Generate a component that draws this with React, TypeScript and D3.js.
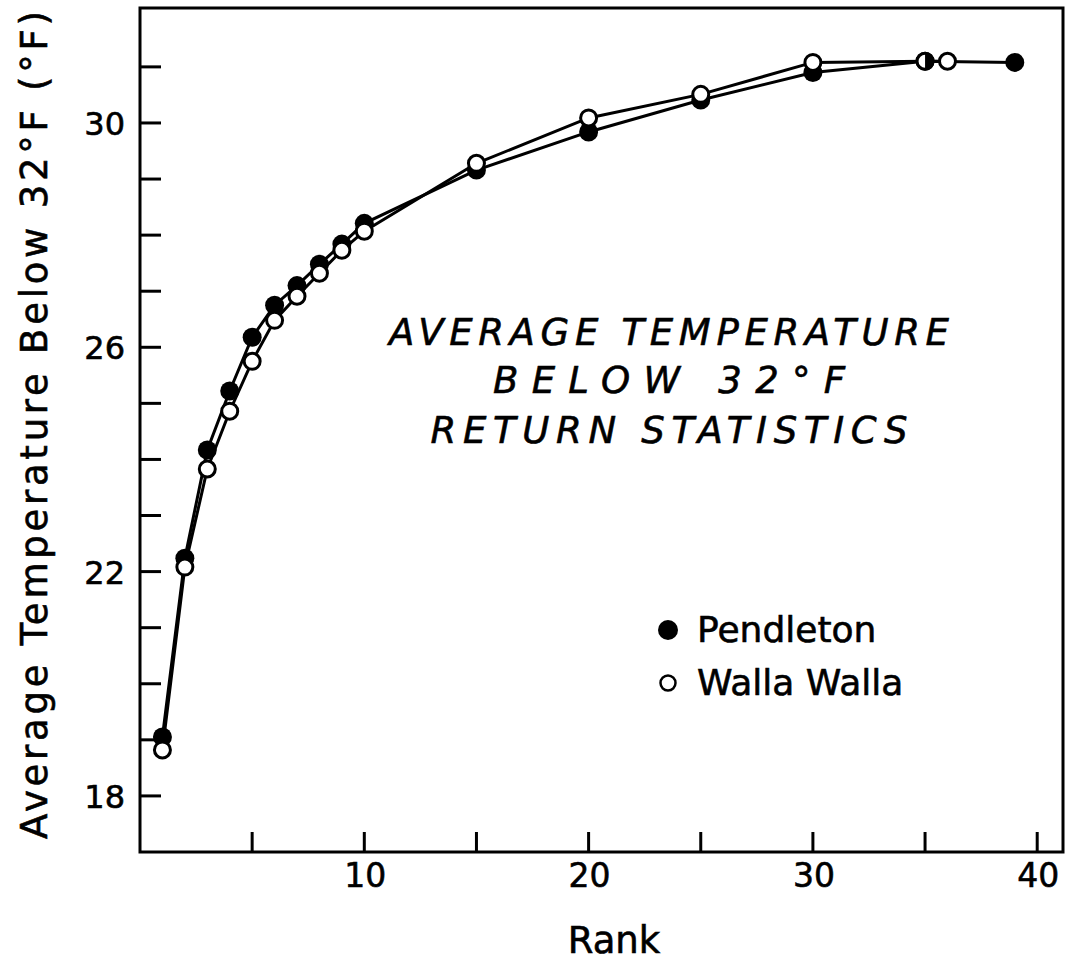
import { useEffect, useRef } from "react";
import * as d3 from "d3";

// ranks and temperatures
const pendletonRank = [1, 2, 3, 4, 5, 6, 7, 8, 9, 10, 15, 20, 25, 30, 35, 39];
const pendletonTemp = [19.05, 22.24, 24.17, 25.22, 26.18, 26.75, 27.1, 27.48, 27.84, 28.21, 29.16, 29.84, 30.41, 30.9, 31.1, 31.08];
const wallaRank = [1, 2, 3, 4, 5, 6, 7, 8, 9, 10, 15, 20, 25, 30, 35, 36];
const wallaTemp = [18.82, 22.08, 23.83, 24.86, 25.75, 26.48, 26.91, 27.32, 27.73, 28.07, 29.28, 30.09, 30.51, 31.08, 31.1, 31.1];

const xTicks = [5, 10, 15, 20, 25, 30, 35, 40];
const xLabels = [10, 20, 30, 40];
const yTicks = [18, 19, 20, 21, 22, 23, 24, 25, 26, 27, 28, 29, 30, 31];
const yLabels = [18, 22, 26, 30];
const titleLines = ["AVERAGE TEMPERATURE", "BELOW 32°F", "RETURN STATISTICS"];

export default function App() {
  const ref = useRef<SVGSVGElement>(null);

  useEffect(() => {
    const width = 1066;
    const height = 961;
    const m = { left: 140, right: 1063, top: 8, bottom: 852 };
    const font = "'DejaVu Sans', Verdana, sans-serif";

    const svg = d3.select(ref.current);
    svg.selectAll("*").remove();
    svg.attr("width", width).attr("height", height);

    const x = d3.scaleLinear().domain([0, 41.15]).range([m.left, m.right]);
    const y = d3.scaleLinear().domain([17, 32.05]).range([m.bottom, m.top]);

    // thicken glyphs a little, like the pen lettering
    const ink = (sel: any) => sel.attr("fill", "#000").attr("stroke", "#000").attr("stroke-width", 0.6);

    // frame
    svg
      .append("rect")
      .attr("x", m.left)
      .attr("y", m.top)
      .attr("width", m.right - m.left)
      .attr("height", m.bottom - m.top)
      .attr("fill", "none")
      .attr("stroke", "#000")
      .attr("stroke-width", 3);

    // ticks (inside)
    svg
      .append("g")
      .selectAll("line")
      .data(xTicks)
      .join("line")
      .attr("x1", (d) => x(d))
      .attr("x2", (d) => x(d))
      .attr("y1", m.bottom)
      .attr("y2", m.bottom - 20)
      .attr("stroke", "#000")
      .attr("stroke-width", 3);

    svg
      .append("g")
      .selectAll("line")
      .data(yTicks)
      .join("line")
      .attr("x1", m.left)
      .attr("x2", m.left + 21)
      .attr("y1", (d) => y(d))
      .attr("y2", (d) => y(d))
      .attr("stroke", "#000")
      .attr("stroke-width", 3);

    svg
      .append("g")
      .selectAll("text")
      .data(xLabels)
      .join("text")
      .attr("x", (d) => x(d) + 1)
      .attr("y", 887)
      .attr("text-anchor", "middle")
      .style("font", `33px ${font}`)
      .call(ink)
      .text((d) => d);

    svg
      .append("g")
      .selectAll("text")
      .data(yLabels)
      .join("text")
      .attr("x", 125)
      .attr("y", (d) => y(d) + 12)
      .attr("text-anchor", "end")
      .style("font", `32px ${font}`)
      .call(ink)
      .text((d) => d);

    // axis titles
    svg
      .append("text")
      .attr("x", 614)
      .attr("y", 953)
      .attr("text-anchor", "middle")
      .style("font", `37px ${font}`)
      .call(ink)
      .text("Rank");

    svg
      .append("text")
      .attr("transform", "translate(47,425) rotate(-90)")
      .attr("text-anchor", "middle")
      .attr("textLength", 828)
      .attr("lengthAdjust", "spacing")
      .style("font", `37px ${font}`)
      .call(ink)
      .text("Average Temperature Below 32°F (°F)");

    // lines
    const line = d3
      .line<[number, number]>()
      .x((d) => x(d[0]))
      .y((d) => y(d[1]));

    const pend: [number, number][] = pendletonRank.map((r, i) => [r, pendletonTemp[i]]);
    const walla: [number, number][] = wallaRank.map((r, i) => [r, wallaTemp[i]]);

    svg
      .append("path")
      .attr("d", line(walla))
      .attr("fill", "none")
      .attr("stroke", "#000")
      .attr("stroke-width", 3);
    svg
      .append("path")
      .attr("d", line(pend))
      .attr("fill", "none")
      .attr("stroke", "#000")
      .attr("stroke-width", 3);

    svg
      .append("g")
      .selectAll("circle")
      .data(pend)
      .join("circle")
      .attr("cx", (d) => x(d[0]))
      .attr("cy", (d) => y(d[1]))
      .attr("r", 9.5)
      .attr("fill", "#000");

    svg
      .append("g")
      .selectAll("circle")
      .data(walla)
      .join("circle")
      .attr("cx", (d) => x(d[0]))
      .attr("cy", (d) => y(d[1]))
      .attr("r", 8)
      .attr("fill", "#fff")
      .attr("stroke", "#000")
      .attr("stroke-width", 3);

    // where both stations share a point, show a half-filled marker
    const shared = pend.filter((p) => walla.some((w) => w[0] === p[0] && Math.abs(w[1] - p[1]) < 0.05));
    const half = d3.arc()({ innerRadius: 0, outerRadius: 8, startAngle: 0, endAngle: Math.PI }) as string;
    svg
      .append("g")
      .selectAll("path")
      .data(shared)
      .join("path")
      .attr("transform", (d) => `translate(${x(d[0])},${y(d[1])})`)
      .attr("d", half)
      .attr("fill", "#000");

    // annotation
    const widths = [560, 352, 477];
    svg
      .append("g")
      .selectAll("text")
      .data(titleLines)
      .join("text")
      .attr("x", 669)
      .attr("y", (d, i) => [345, 393, 443][i])
      .attr("text-anchor", "middle")
      .attr("textLength", (d, i) => widths[i])
      .attr("lengthAdjust", "spacing")
      .style("font", `italic 37px ${font}`)
      .call(ink)
      .text((d) => d);

    // legend
    const legend = svg.append("g").attr("transform", "translate(668,630)");
    legend.append("circle").attr("r", 10).attr("fill", "#000");
    legend
      .append("circle")
      .attr("cy", 53)
      .attr("r", 7.5)
      .attr("fill", "#fff")
      .attr("stroke", "#000")
      .attr("stroke-width", 2.5);
    legend
      .append("text")
      .attr("x", 29)
      .attr("y", 12)
      .style("font", `36px ${font}`)
      .call(ink)
      .text("Pendleton");
    legend
      .append("text")
      .attr("x", 29)
      .attr("y", 65)
      .style("font", `36px ${font}`)
      .call(ink)
      .text("Walla Walla");
  }, []);

  return <svg ref={ref} style={{ position: "absolute", left: 0, top: 0, background: "#fff" }} />;
}
